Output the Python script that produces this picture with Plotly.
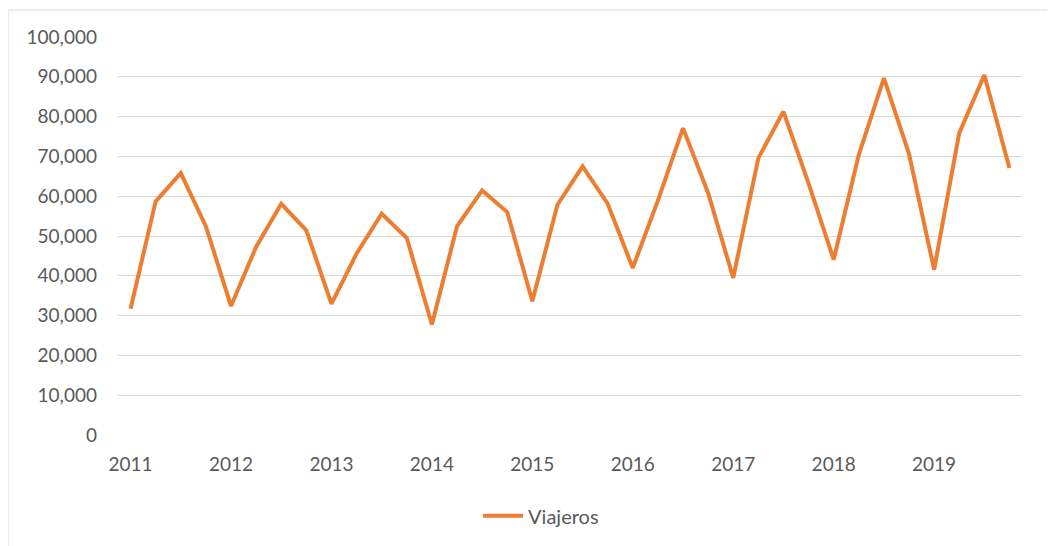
import plotly.graph_objects as go

years = ["2011", "2012", "2013", "2014", "2015", "2016", "2017", "2018", "2019"]
quarters = ["T1", "T2", "T3", "T4"]
periods = [f"{y} {q}" for y in years for q in quarters]
viajeros = [
    31700, 58700, 65800, 52400,
    32400, 47250, 58100, 51400,
    32950, 45570, 55600, 49500,
    27770, 52400, 61450, 56030,
    33600, 57860, 67470, 58110,
    41980, 58900, 77100, 60800,
    39480, 69570, 81270, 63200,
    44070, 70400, 89640, 70650,
    41560, 75850, 90470, 67070,
]
tick_vals = [f"{y} T1" for y in years]
y_ticks = list(range(0, 100001, 10000))

fig = go.Figure()
fig.add_trace(go.Scatter(
    x=periods, y=viajeros, mode="lines", name="Viajeros",
    line=dict(color="#ED7D31", width=4, shape="linear"),
))

font_color = "#595959"
fig.update_layout(
    width=1047, height=538,
    margin=dict(l=110, r=33, t=29, b=110),
    paper_bgcolor="white", plot_bgcolor="white",
    font=dict(family="Lato, 'Open Sans', sans-serif", size=19, color=font_color),
    showlegend=True,
    legend=dict(orientation="h", x=0.468, xanchor="center", y=-0.2, yanchor="middle",
                font=dict(size=20, color=font_color), itemwidth=40),
    xaxis=dict(
        type="category", categoryorder="array", categoryarray=periods,
        range=[-0.5, len(periods) - 0.5],
        tickmode="array", tickvals=tick_vals, ticktext=years,
        showgrid=False, showline=False, zeroline=False, ticks="",
        ticklabelstandoff=16,
    ),
    yaxis=dict(
        range=[0, 100000], tickvals=y_ticks, tickformat=",d",
        showgrid=True, gridcolor="#d9d9d9", gridwidth=1,
        zeroline=False, showline=False, ticks="",
        ticklabelstandoff=20,
    ),
    shapes=[dict(type="rect", xref="paper", yref="paper",
                 x0=-0.1217, x1=1.045, y0=-0.35, y1=1.0677,
                 line=dict(color="#d9d9d9", width=1), layer="below")],
)

fig.write_html("out.html")
